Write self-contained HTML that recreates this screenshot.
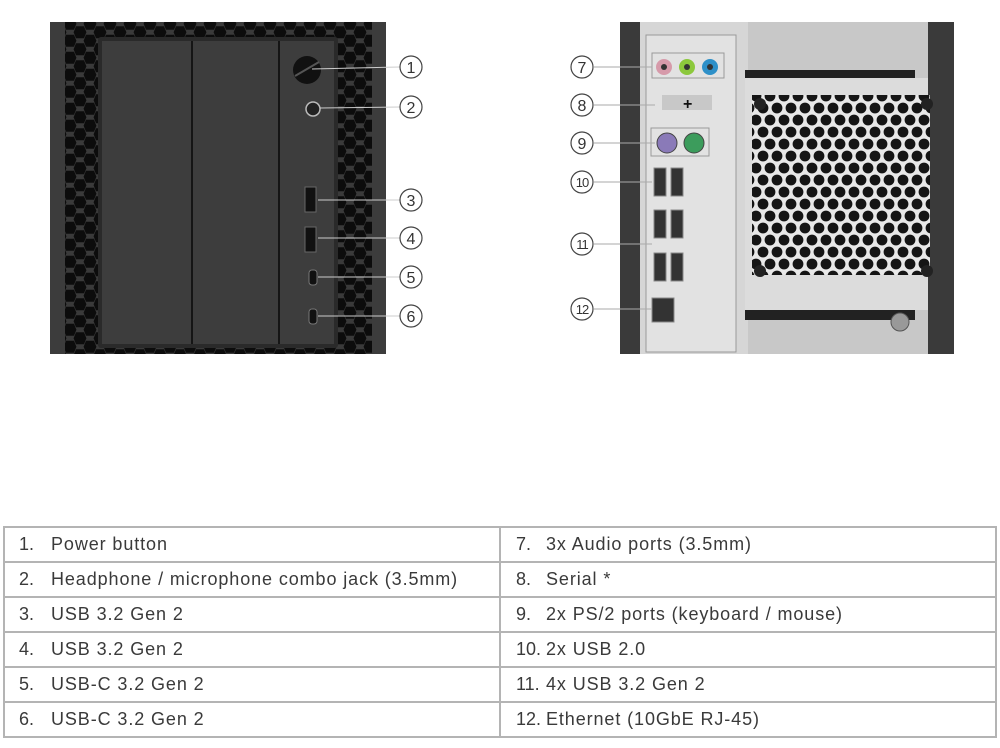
<!DOCTYPE html>
<html><head><meta charset="utf-8"><style>
body{margin:0;width:1000px;height:748px;background:#fff;position:relative;overflow:hidden;font-family:"Liberation Sans",sans-serif}
svg{position:absolute;left:0;top:0}
table{position:absolute;left:3px;top:526px;width:994px;border-collapse:collapse}
td{border:2px solid #b4b4b4;height:33px;padding:0;font-size:18px;letter-spacing:0.9px;color:#3a3a3a;width:50%;white-space:nowrap}
td span{display:inline-block;width:32px;padding-left:14px;letter-spacing:0}
td.r span{padding-left:15px;width:30px}
</style></head><body>
<svg width="1000" height="520" viewBox="0 0 1000 520">
<defs>
<pattern id="hx" width="20" height="17" patternUnits="userSpaceOnUse">
<rect width="20" height="17" fill="#3a3a3a"/>
<g fill="#0c0c0c">
<polygon points="-5,1 5,1 8,8.5 5,16 -5,16 -8,8.5" transform="translate(0,-8.5) scale(0.8)"/>
<polygon points="-5,1 5,1 8,8.5 5,16 -5,16 -8,8.5" transform="translate(0,8.5) scale(0.8)"/>
<polygon points="-5,1 5,1 8,8.5 5,16 -5,16 -8,8.5" transform="translate(20,-8.5) scale(0.8)"/>
<polygon points="-5,1 5,1 8,8.5 5,16 -5,16 -8,8.5" transform="translate(20,8.5) scale(0.8)"/>
<polygon points="-5,1 5,1 8,8.5 5,16 -5,16 -8,8.5" transform="translate(10,0) scale(0.8)"/>
</g>
</pattern>
<pattern id="fan" width="14" height="24" patternUnits="userSpaceOnUse">
<rect width="14" height="24" fill="#e8e8e8"/>
<g fill="#151515">
<circle cx="0" cy="0" r="5.4"/><circle cx="14" cy="0" r="5.4"/><circle cx="0" cy="24" r="5.4"/><circle cx="14" cy="24" r="5.4"/>
<circle cx="7" cy="12" r="5.4"/>
</g>
</pattern>
</defs>
<rect x="50" y="22" width="336" height="332" fill="#3c3c3c"/>
<rect x="65" y="22" width="307" height="332" fill="url(#hx)"/>
<rect x="98" y="37" width="240" height="311" rx="3" fill="#2a2a2a"/>
<rect x="102" y="41" width="232" height="303" fill="#3d3d3d"/>
<line x1="192" y1="41" x2="192" y2="344" stroke="#151515" stroke-width="2"/>
<line x1="279" y1="41" x2="279" y2="344" stroke="#151515" stroke-width="2"/>
<circle cx="307" cy="70" r="14" fill="#111"/>
<path d="M295 76 L319 62" stroke="#555" stroke-width="2"/>
<circle cx="313" cy="109" r="7" fill="#222" stroke="#bbb" stroke-width="1.5"/>
<rect x="305" y="187" width="11" height="25" fill="#111" stroke="#666"/>
<rect x="305" y="227" width="11" height="25" fill="#111" stroke="#666"/>
<rect x="309" y="270" width="8" height="15" rx="3" fill="#111" stroke="#777"/>
<rect x="309" y="309" width="8" height="15" rx="3" fill="#111" stroke="#777"/>
<g stroke="#ccc" stroke-width="1" fill="none">
<line x1="312" y1="69" x2="400" y2="67"/><line x1="320" y1="108" x2="400" y2="107"/>
<line x1="318" y1="200" x2="400" y2="200"/><line x1="318" y1="238" x2="400" y2="238"/>
<line x1="318" y1="277" x2="400" y2="277"/><line x1="318" y1="316" x2="400" y2="316"/>
</g>
<rect x="620" y="22" width="334" height="332" fill="#c8c8c8"/>
<rect x="620" y="22" width="20" height="332" fill="#3a3a3a"/>
<rect x="928" y="22" width="26" height="332" fill="#3a3a3a"/>
<rect x="640" y="22" width="108" height="332" fill="#d6d6d6"/>
<rect x="745" y="70" width="170" height="10" fill="#222"/>
<rect x="745" y="310" width="170" height="10" fill="#222"/>
<rect x="745" y="78" width="183" height="232" fill="#dcdcdc"/>
<rect x="752" y="95" width="178" height="180" fill="url(#fan)"/>
<g fill="#222"><circle cx="760" cy="104" r="6"/><circle cx="927" cy="104" r="6"/><circle cx="760" cy="271" r="6"/><circle cx="927" cy="271" r="6"/></g>
<circle cx="900" cy="322" r="9" fill="#999" stroke="#555"/>
<rect x="646" y="35" width="90" height="317" fill="#e2e2e2" stroke="#999"/>
<rect x="652" y="53" width="72" height="25" fill="none" stroke="#999"/>
<circle cx="664" cy="67" r="8" fill="#d69aaa"/><circle cx="664" cy="67" r="3" fill="#333"/>
<circle cx="687" cy="67" r="8" fill="#8cc83c"/><circle cx="687" cy="67" r="3" fill="#333"/>
<circle cx="710" cy="67" r="8" fill="#2e90c8"/><circle cx="710" cy="67" r="3" fill="#333"/>
<path d="M662 95 L712 95 L712 110 L662 110 Z" fill="#c8c8c8"/>
<text x="683" y="109" font-size="16" font-weight="bold" fill="#111">+</text>
<rect x="651" y="128" width="58" height="28" fill="none" stroke="#999"/>
<circle cx="667" cy="143" r="10" fill="#8a7ab8" stroke="#444"/>
<circle cx="694" cy="143" r="10" fill="#3c9c5c" stroke="#444"/>
<g fill="#333" stroke="#888">
<rect x="654" y="168" width="12" height="28"/><rect x="671" y="168" width="12" height="28"/>
<rect x="654" y="210" width="12" height="28"/><rect x="671" y="210" width="12" height="28"/>
<rect x="654" y="253" width="12" height="28"/><rect x="671" y="253" width="12" height="28"/>
<rect x="652" y="298" width="22" height="24"/>
</g>
<g stroke="#aaa" stroke-width="1"><line x1="594" y1="67" x2="652" y2="67"/><line x1="594" y1="105" x2="655" y2="105"/><line x1="594" y1="143" x2="655" y2="143"/><line x1="594" y1="182" x2="652" y2="182"/><line x1="594" y1="244" x2="652" y2="244"/><line x1="594" y1="309" x2="652" y2="309"/></g>
<g fill="#fff" stroke="#444" stroke-width="1.2">
<circle cx="411" cy="67" r="11"/><circle cx="411" cy="107" r="11"/><circle cx="411" cy="200" r="11"/><circle cx="411" cy="238" r="11"/><circle cx="411" cy="277" r="11"/><circle cx="411" cy="316" r="11"/>
<circle cx="582" cy="67" r="11"/><circle cx="582" cy="105" r="11"/><circle cx="582" cy="143" r="11"/><circle cx="582" cy="182" r="11"/><circle cx="582" cy="244" r="11"/><circle cx="582" cy="309" r="11"/>
</g>
<g font-size="16" fill="#333" text-anchor="middle" font-family="Liberation Sans">
<text x="411" y="73">1</text><text x="411" y="113">2</text><text x="411" y="206">3</text><text x="411" y="244">4</text><text x="411" y="283">5</text><text x="411" y="322">6</text>
<text x="582" y="73">7</text><text x="582" y="111">8</text><text x="582" y="149">9</text>
<text x="582" y="187" font-size="13" letter-spacing="-1">10</text><text x="582" y="249" font-size="13" letter-spacing="-1">11</text><text x="582" y="314" font-size="13" letter-spacing="-1">12</text>
</g>
</svg>
<table>
<tr><td><span>1.</span>Power button</td><td class="r"><span>7.</span>3x Audio ports (3.5mm)</td></tr>
<tr><td><span>2.</span>Headphone / microphone combo jack (3.5mm)</td><td class="r"><span>8.</span>Serial *</td></tr>
<tr><td><span>3.</span>USB 3.2 Gen 2</td><td class="r"><span>9.</span>2x PS/2 ports (keyboard / mouse)</td></tr>
<tr><td><span>4.</span>USB 3.2 Gen 2</td><td class="r"><span>10.</span>2x USB 2.0</td></tr>
<tr><td><span>5.</span>USB-C 3.2 Gen 2</td><td class="r"><span>11.</span>4x USB 3.2 Gen 2</td></tr>
<tr><td><span>6.</span>USB-C 3.2 Gen 2</td><td class="r"><span>12.</span>Ethernet (10GbE RJ-45)</td></tr>
</table>
</body></html>
